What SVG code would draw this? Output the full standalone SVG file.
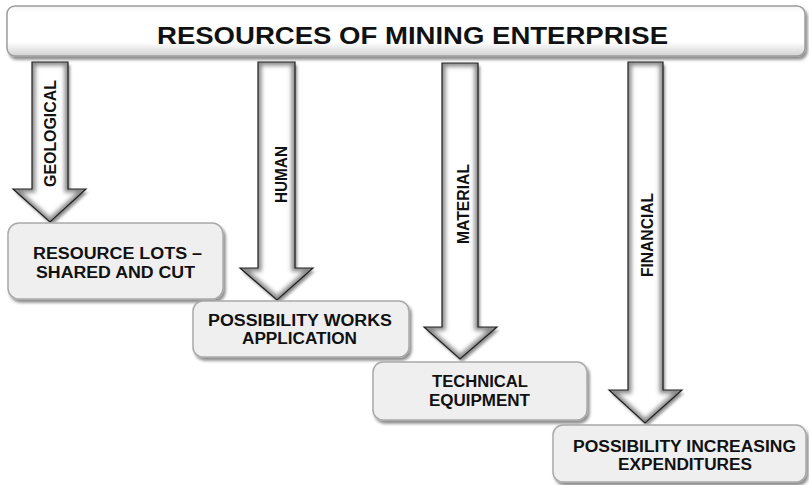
<svg xmlns="http://www.w3.org/2000/svg" xmlns:xlink="http://www.w3.org/1999/xlink" width="809" height="485" viewBox="0 0 809 485">
  <style>
    .t { font-family: "Liberation Sans", Arial, sans-serif; font-weight: bold; fill: #111; }
    .title { font-size: 23.5px; }
    .box-text { font-size: 16px; text-anchor: middle; }
    .lab { font-size: 16.5px; text-anchor: middle; }
    .box { fill: #efefef; stroke: #a9a9a9; stroke-width: 1.5; filter: url(#shadow); }
    .arrow-fill { fill: #ffffff; filter: url(#shadow); }
    .arrow-bevel { fill: none; stroke: #8a8a8a; stroke-width: 7; filter: url(#blur); }
    .arrow-line { fill: none; stroke: #1e1e1e; stroke-width: 1.2; stroke-linejoin: miter; }
  </style>
  <defs>
    <filter id="shadow" x="-10%" y="-10%" width="130%" height="130%">
      <feGaussianBlur in="SourceAlpha" stdDeviation="1.5"/>
      <feOffset dx="2" dy="3" result="o"/>
      <feComponentTransfer><feFuncA type="linear" slope="0.45"/></feComponentTransfer>
      <feMerge><feMergeNode/><feMergeNode in="SourceGraphic"/></feMerge>
    </filter>
    <filter id="blur" x="-20%" y="-20%" width="140%" height="140%">
      <feGaussianBlur stdDeviation="2"/>
    </filter>
    <linearGradient id="hdrGrad" x1="0" y1="0" x2="0" y2="1">
      <stop offset="0" stop-color="#f4f4f4"/>
      <stop offset="0.12" stop-color="#ffffff"/>
      <stop offset="0.72" stop-color="#ffffff"/>
      <stop offset="1" stop-color="#d2d2d2"/>
    </linearGradient>
    <path id="a1" d="M32,62 L68,62 L68,189 L86,189 L50,222 L13,189 L32,189 Z"/>
    <path id="a2" d="M258,62 L295,62 L295,268 L313,268 L277,300 L240,268 L258,268 Z"/>
    <path id="a3" d="M442,63 L478,63 L478,327 L497,327 L460,359 L424,327 L442,327 Z"/>
    <path id="a4" d="M628,62 L663,62 L663,390 L682,390 L645,423 L609,390 L628,390 Z"/>
    <clipPath id="c1"><use xlink:href="#a1"/></clipPath>
    <clipPath id="c2"><use xlink:href="#a2"/></clipPath>
    <clipPath id="c3"><use xlink:href="#a3"/></clipPath>
    <clipPath id="c4"><use xlink:href="#a4"/></clipPath>
  </defs>

  <rect width="809" height="485" fill="#ffffff"/>

  <g id="header">
    <rect x="7" y="6" width="798" height="50" rx="8" ry="8" fill="url(#hdrGrad)" stroke="#9c9c9c" stroke-width="1.5" filter="url(#shadow)"/>
    <text class="t title" x="157" y="44" textLength="511" lengthAdjust="spacingAndGlyphs">RESOURCES OF MINING ENTERPRISE</text>
  </g>

  <g id="connectors">
    <g id="arrow-geological">
      <use xlink:href="#a1" class="arrow-fill"/>
      <g clip-path="url(#c1)"><use xlink:href="#a1" class="arrow-bevel"/></g>
      <use xlink:href="#a1" class="arrow-line"/>
      <text class="t lab" transform="translate(55.5,133.5) rotate(-90)" textLength="107" lengthAdjust="spacingAndGlyphs">GEOLOGICAL</text>
    </g>
    <g id="arrow-human">
      <use xlink:href="#a2" class="arrow-fill"/>
      <g clip-path="url(#c2)"><use xlink:href="#a2" class="arrow-bevel"/></g>
      <use xlink:href="#a2" class="arrow-line"/>
      <text class="t lab" transform="translate(286.5,174.5) rotate(-90)" textLength="57" lengthAdjust="spacingAndGlyphs">HUMAN</text>
    </g>
    <g id="arrow-material">
      <use xlink:href="#a3" class="arrow-fill"/>
      <g clip-path="url(#c3)"><use xlink:href="#a3" class="arrow-bevel"/></g>
      <use xlink:href="#a3" class="arrow-line"/>
      <text class="t lab" transform="translate(468.5,204) rotate(-90)" textLength="80" lengthAdjust="spacingAndGlyphs">MATERIAL</text>
    </g>
    <g id="arrow-financial">
      <use xlink:href="#a4" class="arrow-fill"/>
      <g clip-path="url(#c4)"><use xlink:href="#a4" class="arrow-bevel"/></g>
      <use xlink:href="#a4" class="arrow-line"/>
      <text class="t lab" transform="translate(652.5,235) rotate(-90)" textLength="84" lengthAdjust="spacingAndGlyphs">FINANCIAL</text>
    </g>
  </g>

  <g id="node-resource-lots">
    <rect class="box" x="8" y="223" width="215" height="76" rx="11" ry="11"/>
    <text class="t box-text" x="117.5" y="259" textLength="169" lengthAdjust="spacingAndGlyphs">RESOURCE LOTS –</text>
    <text class="t box-text" x="115.5" y="278" textLength="159" lengthAdjust="spacingAndGlyphs">SHARED AND CUT</text>
  </g>

  <g id="node-works-application">
    <rect class="box" x="193" y="301" width="216" height="56" rx="10" ry="10"/>
    <text class="t box-text" x="300" y="326" textLength="184" lengthAdjust="spacingAndGlyphs">POSSIBILITY WORKS</text>
    <text class="t box-text" x="299.5" y="344" textLength="115" lengthAdjust="spacingAndGlyphs">APPLICATION</text>
  </g>

  <g id="node-technical-equipment">
    <rect class="box" x="373" y="362" width="214" height="58" rx="10" ry="10"/>
    <text class="t box-text" x="480" y="387" textLength="96" lengthAdjust="spacingAndGlyphs">TECHNICAL</text>
    <text class="t box-text" x="479.5" y="406" textLength="101" lengthAdjust="spacingAndGlyphs">EQUIPMENT</text>
  </g>

  <g id="node-increasing-expenditures">
    <rect class="box" x="553" y="425" width="253" height="57" rx="10" ry="10"/>
    <text class="t box-text" x="684.5" y="452" textLength="223" lengthAdjust="spacingAndGlyphs">POSSIBILITY INCREASING</text>
    <text class="t box-text" x="685" y="470" textLength="134" lengthAdjust="spacingAndGlyphs">EXPENDITURES</text>
  </g>
</svg>
